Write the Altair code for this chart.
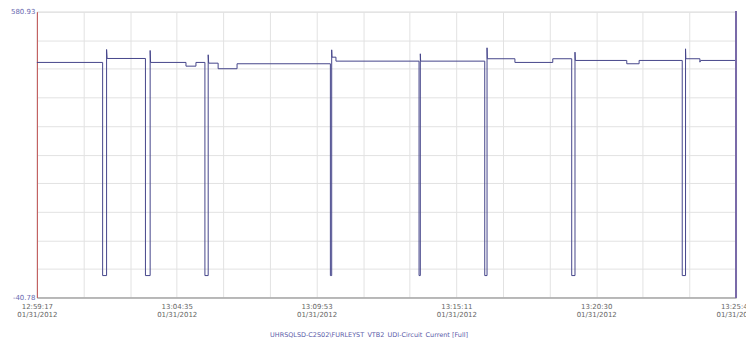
import altair as alt
import pandas as pd

# ---- data (seconds from start, current value) ----
t_sec = [0, 149.7, 149.7, 158.7, 158.7, 159.9, 247.2, 247.2, 257.9, 257.9, 258.9,
         339.5, 339.5, 362.2, 362.2, 382.6, 382.6, 390.1, 390.1, 391.2, 412.7, 412.7,
         455.8, 455.8, 668.3, 668.3, 671.3, 671.3, 672.0, 681.0, 681.0, 870.2, 870.2,
         873.1, 873.1, 873.8, 1019.8, 1019.8, 1025.0, 1025.0, 1025.7, 1088.5, 1088.5,
         1174.7, 1174.7, 1217.8, 1217.8, 1225.3, 1225.3, 1226.0, 1343.2, 1343.2,
         1371.3, 1371.3, 1469.5, 1469.5, 1477.0, 1477.0, 1477.7, 1509.7, 1509.7,
         1511.5, 1592]
values = [470.5, 470.5, 6.9, 6.9, 498.6, 479.1, 479.1, 6.9, 6.9, 496.5, 470.5,
          470.5, 462.4, 462.4, 470.5, 470.5, 6.9, 6.9, 487.1, 468.9, 468.9, 456.8,
          456.8, 467.6, 467.6, 6.9, 6.9, 497.9, 481.9, 481.9, 473.3, 473.3, 6.9,
          6.9, 489.3, 473.3, 473.3, 6.9, 6.9, 502.3, 478.5, 478.5, 470.5,
          470.5, 478.5, 478.5, 6.9, 6.9, 492.8, 474.8, 474.8, 467.6,
          467.6, 474.8, 474.8, 6.9, 6.9, 500.1, 478.5, 478.5, 471.1,
          474.8, 474.8]

y_min, y_max = -40.78, 580.93
x_span = 1592
time_labels = ["12:59:17", "13:04:35", "13:09:53", "13:15:11", "13:20:30", "13:25:49"]
date_labels = ["01/31/2012"] * 6
title_text = "UHRSQLSD-C2S02\\FURLEYST_VTB2_UDI-Circuit_Current [Full]"

df = pd.DataFrame({"t": t_sec, "v": values, "i": list(range(len(t_sec)))})

x_grid = [k * x_span / 15 for k in range(16)]
y_grid = [y_min + k * (y_max - y_min) / 10 for k in range(11)]
label_vals = [k * x_span / 5 for k in range(6)]

expr = "''"
for lv, tl, dl in reversed(list(zip(label_vals, time_labels, date_labels))):
    expr = f"abs(datum.value - {lv}) < 1 ? ['{tl}', '{dl}'] : ({expr})"

y_expr = (f"datum.value >= {y_max - 1} ? '{y_max:.2f}' : "
          f"(datum.value <= {y_min + 1} ? '{y_min:.2f}' : '')")

W, H = 702, 287

line = alt.Chart(df).mark_line(color="#45458a", strokeWidth=1, interpolate="linear").encode(
    x=alt.X("t:Q", scale=alt.Scale(domain=[0, x_span], nice=False, zero=False),
            axis=alt.Axis(values=x_grid, labelExpr=expr, grid=True, gridColor="#e2e2e2",
                          ticks=False, domainColor="#8a8a8a", labelFontSize=7,
                          labelColor="#666666", labelPadding=5, labelLineHeight=8,
                          labelFont="DejaVu Sans", title=title_text, titleFontSize=6.5,
                          titleFont="DejaVu Sans", titleFontWeight="normal",
                          titleColor="#5a5aa8", titlePadding=14, titleX=333,
                          labelOverlap=False, labelFlush=False)),
    y=alt.Y("v:Q", scale=alt.Scale(domain=[y_min, y_max], nice=False, zero=False),
            axis=alt.Axis(values=y_grid, labelExpr=y_expr, grid=True, gridColor="#e2e2e2",
                          ticks=False, domainColor="#c05050", labelFontSize=7,
                          labelColor="#6a6ab0", labelPadding=2, labelFont="DejaVu Sans",
                          title=None, labelOverlap=False, labelFlush=False)),
    order="i:Q",
)

right_border = alt.Chart(df).mark_rule(color="#7a6aa8", strokeWidth=1).encode(
    x=alt.value(W), y=alt.value(0), y2=alt.value(H)
)

chart = alt.layer(line, right_border).properties(
    width=W, height=H,
    autosize=alt.AutoSizeParams(type="none"),
    padding={"left": 29, "top": 3, "right": 10, "bottom": 40},
).configure_view(stroke="#7a7a7a", strokeWidth=1).configure(background="white")

chart.save("out.html", embed_options={"renderer": "svg", "actions": False})
